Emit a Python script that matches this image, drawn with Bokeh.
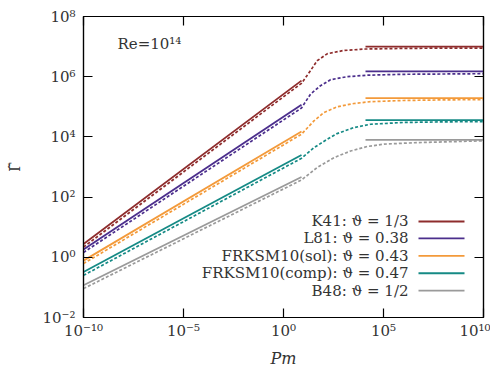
from bokeh.plotting import figure
from bokeh.models import Range1d, FixedTicker, LogAxis, Label
from bokeh.embed import file_html
from bokeh.resources import INLINE

# ---------------- data (log10 values) ----------------
names = ["K41: ϑ = 1/3", "L81: ϑ = 0.38", "FRKSM10(sol): ϑ = 0.43",
         "FRKSM10(comp): ϑ = 0.47", "B48: ϑ = 1/2"]
colors = ["#8e2c2c", "#4b2e8c", "#f39a3a", "#158a85", "#9a9a9a"]

# solid power-law segment at small Pm
left_x = [-10.0, 0.9]
left_y = [[0.44, 5.87], [0.26, 5.07], [-0.11, 4.18], [-0.49, 3.40], [-0.93, 2.67]]
# solid plateau at large Pm
right_x = [4.1, 10.0]
plateau_y = [7.00, 6.18, 5.29, 4.56, 3.90]

# dashed full curves
dash_x = [
    [-10, 0.9, 1.35, 1.68, 2.18, 3.0, 4.1, 6.0, 8.0, 10.0],
    [-10, 0.9, 1.35, 1.85, 2.35, 3.18, 4.18, 6.0, 8.0, 10.0],
    [-10, 0.9, 1.52, 2.02, 2.68, 3.52, 4.35, 6.0, 8.0, 10.0],
    [-10, 0.9, 1.52, 2.18, 2.68, 3.52, 4.35, 6.0, 8.0, 10.0],
    [-10, 0.9, 1.68, 2.52, 3.35, 4.18, 5.02, 6.68, 8.35, 10.0],
]
dash_y = [
    [0.34, 5.78, 6.20, 6.53, 6.76, 6.87, 6.92, 6.94, 6.95, 6.95],
    [0.16, 4.96, 5.42, 5.70, 5.90, 6.00, 6.05, 6.08, 6.09, 6.10],
    [-0.21, 4.09, 4.53, 4.81, 5.00, 5.11, 5.17, 5.21, 5.23, 5.24],
    [-0.60, 3.29, 3.64, 3.92, 4.11, 4.31, 4.42, 4.48, 4.50, 4.51],
    [-1.04, 2.57, 2.98, 3.31, 3.53, 3.68, 3.76, 3.81, 3.84, 3.87],
]

x_ticks = [1e-10, 1e-5, 1e0, 1e5, 1e10]
x_tick_labels = ["10⁻¹⁰", "10⁻⁵", "10⁰", "10⁵", "10¹⁰"]
y_ticks = [1e-2, 1e0, 1e2, 1e4, 1e6, 1e8]
y_tick_labels = ["10⁻²", "10⁰", "10²", "10⁴", "10⁶", "10⁸"]

SERIF = "DejaVu Serif"

def p10(v):
    return [10.0 ** t for t in v]

p = figure(frame_width=400, frame_height=301,
           min_border_left=83, min_border_right=7, min_border_top=16, min_border_bottom=44,
           x_axis_type="log", y_axis_type="log",
           x_range=Range1d(1e-10, 1e10), y_range=Range1d(1e-2, 1e8),
           output_backend="svg", toolbar_location=None)
p.xgrid.visible = False
p.ygrid.visible = False
p.outline_line_color = "black"
p.outline_line_width = 1.2
p.background_fill_color = "white"
p.border_fill_color = "white"

for i in range(5):
    c = colors[i]
    p.line(p10(dash_x[i]), p10(dash_y[i]), line_color=c, line_width=1.7, line_dash="3 2")
    p.line(p10(left_x), p10(left_y[i]), line_color=c, line_width=1.8)
    p.line(p10(right_x), p10([plateau_y[i], plateau_y[i]]), line_color=c, line_width=1.8)

def style_axis(ax, labels, show):
    ax.major_tick_in = 9
    ax.major_tick_out = 0
    ax.minor_tick_line_color = None
    ax.axis_line_color = "black"
    ax.axis_line_width = 1.2
    ax.major_tick_line_color = "black"
    ax.major_tick_line_width = 1.2
    ax.major_label_text_font = SERIF
    ax.major_label_text_font_size = "15px"
    ax.major_label_text_color = "#333333" if show else None
    ax.major_label_overrides = labels

xax = p.xaxis[0]
xax.ticker = FixedTicker(ticks=x_ticks)
style_axis(xax, {t: s for t, s in zip(x_ticks, x_tick_labels)}, True)
xax.major_label_standoff = 4
xax.axis_label = "Pm"
xax.axis_label_text_font = SERIF
xax.axis_label_text_font_style = "italic"
xax.axis_label_text_font_size = "16px"
xax.axis_label_text_color = "#333333"
xax.axis_label_standoff = 6

yax = p.yaxis[0]
yax.ticker = FixedTicker(ticks=y_ticks)
style_axis(yax, {t: s for t, s in zip(y_ticks, y_tick_labels)}, True)
yax.major_label_standoff = 8
yax.axis_label = "Γ̃"
yax.axis_label_text_font = SERIF
yax.axis_label_text_font_style = "normal"
yax.axis_label_text_font_size = "14px"
yax.axis_label_text_color = "#333333"
yax.axis_label_standoff = 16

top = LogAxis(ticker=FixedTicker(ticks=x_ticks))
style_axis(top, {}, False)
p.add_layout(top, "above")
right = LogAxis(ticker=FixedTicker(ticks=y_ticks))
style_axis(right, {}, False)
p.add_layout(right, "right")
top.major_label_text_font_size = "0px"
right.major_label_text_font_size = "0px"
top.major_label_standoff = 0
right.major_label_standoff = 0

# annotation
p.add_layout(Label(x=10 ** -8.3, y=10 ** 7.1, text="Re=10¹⁴", text_font=SERIF,
                   text_font_size="15px", text_color="#333333", text_baseline="middle"))

# legend (label left, line right)
leg_rows = [1.19, 0.63, 0.05, -0.53, -1.11]
for i in range(5):
    yy = 10 ** leg_rows[i]
    p.add_layout(Label(x=10 ** 6.25, y=yy, text=names[i], text_font=SERIF,
                       text_font_size="15px", text_color="#333333",
                       text_align="right", text_baseline="middle"))
    p.line([10 ** 6.75, 10 ** 9.05], [yy, yy], line_color=colors[i], line_width=1.8)

open("out.html", "w").write(file_html(p, INLINE))
